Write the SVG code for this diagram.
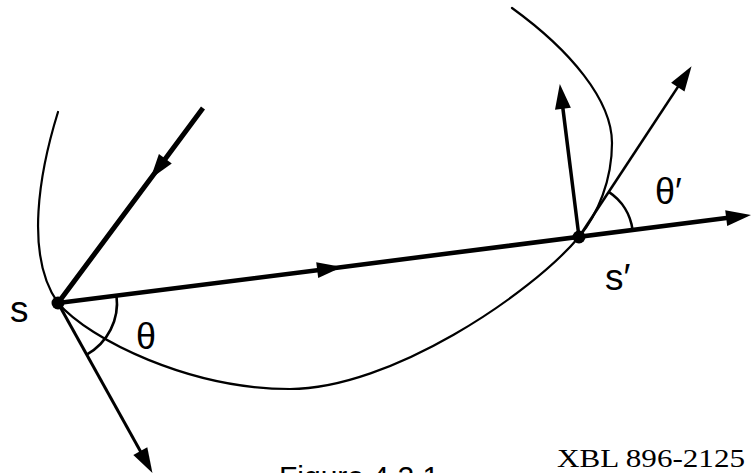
<svg xmlns="http://www.w3.org/2000/svg" width="751" height="473" viewBox="0 0 751 473">
<style>
  .curve { fill: none; stroke: #000; stroke-width: 2.2; stroke-linecap: round; }
  .arc { fill: none; stroke: #000; stroke-width: 2.6; }
  .ray { fill: none; stroke: #000; stroke-linecap: butt; }
  .lbl { font-family: "Liberation Sans", Arial, sans-serif; fill: #000; }
  .cap { font-family: "Liberation Serif", "Times New Roman", serif; fill: #000; }
</style>
<defs>
  <marker id="ah" markerUnits="userSpaceOnUse" markerWidth="30" markerHeight="20" refX="14" refY="0" viewBox="0 -10 30 20" orient="auto" overflow="visible">
    <path d="M0,-8 L25,0 L0,8 z" fill="#000"/>
  </marker>
</defs>
<rect width="751" height="473" fill="#fff"/>

<g id="surface">
  <path class="curve" d="M58,112 C40,170 24,255 58,303 C90,340 190,389 290,389 C390,389 530,295 579,237 C598,214 612,180 612,143 C612,100 570,50 512,8"/>
</g>

<g id="connectors">
  <path id="ray-main" class="ray" stroke-width="4.5" d="M58,303 L331.1,268.4 L740.1,216.3" marker-mid="url(#ah)" marker-end="url(#ah)"/>
  <path id="ray-incoming" class="ray" stroke-width="5" d="M203,108 L157,170 L58,303" marker-mid="url(#ah)"/>
  <path id="ray-out" class="ray" stroke-width="3" d="M58,303 L147.1,463.3" marker-end="url(#ah)"/>
  <path id="normal-sp" class="ray" stroke-width="3.5" d="M579,237 L561.2,94.9" marker-end="url(#ah)"/>
  <path id="tangent-sp" class="ray" stroke-width="2.6" d="M579,237 L685.5,75.4" marker-end="url(#ah)"/>
  <path id="arc-theta" class="arc" d="M116.5,295.6 A59,59 0 0 1 86.7,354.6"/>
  <path id="arc-thetap" class="arc" d="M608.7,191.9 A54,54 0 0 1 632.6,230.2"/>
</g>

<g id="node-s">
  <circle cx="58" cy="303" r="6.5" fill="#000"/>
  <text class="lbl" x="10" y="322" font-size="37">s</text>
</g>
<g id="node-sp">
  <circle cx="579" cy="237" r="6.5" fill="#000"/>
  <text class="lbl" x="605" y="290" font-size="37">s′</text>
</g>
<g id="label-theta">
  <text class="lbl" x="136" y="349" font-size="36">θ</text>
</g>
<g id="label-thetap">
  <text class="lbl" x="655" y="204" font-size="36">θ′</text>
</g>
<g id="caption">
  <text class="lbl" x="279" y="487" font-size="30">Figure 4.2.1</text>
  <text class="cap" x="557" y="467" font-size="25" textLength="188" lengthAdjust="spacingAndGlyphs">XBL 896-2125</text>
</g>
</svg>
